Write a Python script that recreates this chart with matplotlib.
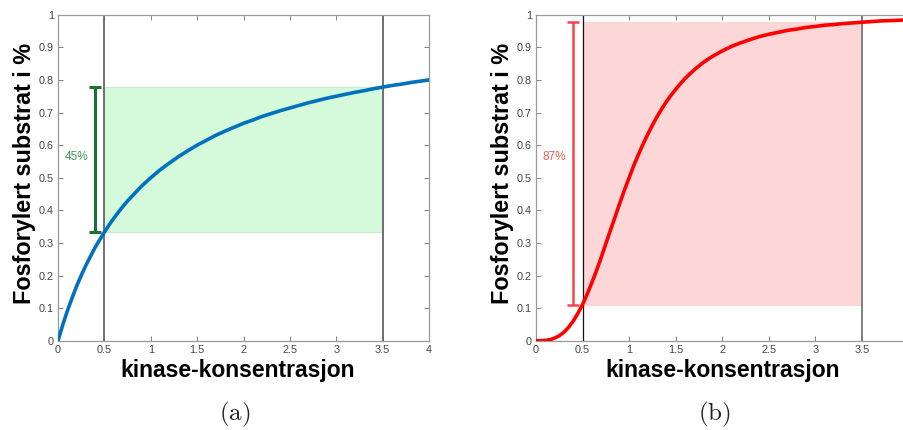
import matplotlib
matplotlib.use("Agg")
import matplotlib.pyplot as plt

# (a) hyperbolic response: kinase concentration and phosphorylated fraction
kinase_a = [0.00, 0.05, 0.10, 0.15, 0.20, 0.25, 0.30, 0.35, 0.40, 0.45,
            0.50, 0.55, 0.60, 0.65, 0.70, 0.75, 0.80, 0.85, 0.90, 0.95,
            1.0, 1.1, 1.2, 1.3, 1.4, 1.5, 1.6, 1.7, 1.8, 1.9,
            2.0, 2.1, 2.2, 2.3, 2.4, 2.5, 2.6, 2.7, 2.8, 2.9,
            3.0, 3.1, 3.2, 3.3, 3.4, 3.5, 3.6, 3.7, 3.8, 3.9, 4.0]
phos_a = [0.000, 0.048, 0.091, 0.130, 0.167, 0.200, 0.231, 0.259, 0.286, 0.310,
          0.333, 0.355, 0.375, 0.394, 0.412, 0.429, 0.444, 0.459, 0.474, 0.487,
          0.500, 0.524, 0.545, 0.565, 0.583, 0.600, 0.615, 0.630, 0.643, 0.655,
          0.667, 0.677, 0.688, 0.697, 0.706, 0.714, 0.722, 0.730, 0.737, 0.744,
          0.750, 0.756, 0.762, 0.767, 0.773, 0.778, 0.783, 0.787, 0.792, 0.796,
          0.800]

# (b) sigmoidal response
kinase_b = [0.00, 0.05, 0.10, 0.15, 0.20, 0.25, 0.30, 0.35, 0.40, 0.45,
            0.50, 0.55, 0.60, 0.65, 0.70, 0.75, 0.80, 0.85, 0.90, 0.95,
            1.00, 1.05, 1.10, 1.15, 1.20, 1.25, 1.30, 1.35, 1.40, 1.45,
            1.50, 1.55, 1.60, 1.65, 1.70, 1.75, 1.80, 1.85, 1.90, 1.95,
            2.0, 2.1, 2.2, 2.3, 2.4, 2.5, 2.6, 2.7, 2.8, 2.9,
            3.0, 3.1, 3.2, 3.3, 3.4, 3.5, 3.6, 3.7, 3.8, 3.9, 4.0]
phos_b = [0.000, 0.000, 0.001, 0.003, 0.008, 0.015, 0.026, 0.041, 0.060, 0.084,
          0.111, 0.143, 0.178, 0.215, 0.255, 0.297, 0.339, 0.380, 0.422, 0.462,
          0.500, 0.537, 0.571, 0.603, 0.633, 0.661, 0.687, 0.711, 0.733, 0.753,
          0.771, 0.788, 0.804, 0.818, 0.831, 0.843, 0.854, 0.864, 0.873, 0.881,
          0.889, 0.903, 0.914, 0.924, 0.933, 0.940, 0.946, 0.952, 0.956, 0.961,
          0.964, 0.968, 0.970, 0.973, 0.975, 0.977, 0.979, 0.981, 0.982, 0.983,
          0.985]

# change in phosphorylation between the two marked concentrations
change_labels = ["45%", "87%"]

x_low, x_high = 0.5, 3.5
xticks_a = [0, 0.5, 1, 1.5, 2, 2.5, 3, 3.5, 4]
xtick_labels_a = ["0", "0.5", "1", "1.5", "2", "2.5", "3", "3.5", "4"]
xticks_b = [0, 0.5, 1, 1.5, 2, 2.5, 3, 3.5]
xtick_labels_b = ["0", "0.5", "1", "1.5", "2", "2.5", "3", "3.5"]
yticks = [0, 0.1, 0.2, 0.3, 0.4, 0.5, 0.6, 0.7, 0.8, 0.9, 1]
ytick_labels = ["0", "0.1", "0.2", "0.3", "0.4", "0.5", "0.6", "0.7", "0.8", "0.9", "1"]

plt.rcParams["font.family"] = ["Liberation Sans", "DejaVu Sans"]
plt.rcParams["mathtext.fontset"] = "cm"

fig = plt.figure(figsize=(9.04, 4.30), dpi=100)
ax_a = fig.add_axes([0.0642, 0.2077, 0.4104, 0.758])
ax_b = fig.add_axes([0.5929, 0.2077, 0.4120, 0.758])

panels = [
    dict(ax=ax_a, xs=kinase_a, ys=phos_a, xt=xticks_a, xtl=xtick_labels_a,
         curve="#0072bd", fill="#d4fadb", edge="#c4ebcc", bar="#1e6e3a",
         bar_lw=2.2, txt="#3f9a5a", vlo="#666666", vhi="#666666",
         vlw_lo=1.3, vlw_hi=1.3, label=change_labels[0], cap="(a)",
         cap_x=235 / 904, xlabel_x=0.484),
    dict(ax=ax_b, xs=kinase_b, ys=phos_b, xt=xticks_b, xtl=xtick_labels_b,
         curve="#ff0000", fill="#fdd7d7", edge="#fdd7d7", bar="#f04848",
         bar_lw=1.8, txt="#f05a5a", vlo="#111111", vhi="#777777",
         vlw_lo=0.9, vlw_hi=1.3, label=change_labels[1], cap="(b)",
         cap_x=714 / 904, xlabel_x=0.5),
]

for p in panels:
    ax, xs, ys = p["ax"], p["xs"], p["ys"]
    y_lo = ys[xs.index(x_low)]
    y_hi = ys[xs.index(x_high)]

    ax.fill_between([x_low, x_high], y_lo, y_hi, facecolor=p["fill"],
                    edgecolor=p["edge"], linewidth=0.8, zorder=1)
    ax.axvline(x_low, color=p["vlo"], lw=p["vlw_lo"], zorder=2)
    ax.axvline(x_high, color=p["vhi"], lw=p["vlw_hi"], zorder=2)
    ax.plot(xs, ys, color=p["curve"], lw=2.6, zorder=3,
            solid_capstyle="round", solid_joinstyle="round")

    # bracket spanning the change between the two concentrations
    ax.errorbar([0.4], [(y_lo + y_hi) / 2], yerr=[[(y_hi - y_lo) / 2]],
                fmt="none", ecolor=p["bar"], elinewidth=p["bar_lw"],
                capsize=4, capthick=p["bar_lw"], zorder=4)
    ax.text(0.2, 0.565, p["label"], color=p["txt"], fontsize=8.5,
            ha="center", va="center")

    ax.set_xlim(0, 4)
    ax.set_ylim(0, 1)
    ax.set_xticks(p["xt"])
    ax.set_xticklabels(p["xtl"])
    ax.set_yticks(yticks)
    ax.set_yticklabels(ytick_labels)
    ax.tick_params(direction="in", length=3.5, width=0.7, colors="#888888",
                   labelcolor="#444444", labelsize=7.8, top=True, right=True,
                   pad=3)
    for sp in ax.spines.values():
        sp.set_color("#999999")
        sp.set_linewidth(0.9)

    ax.set_xlabel("kinase-konsentrasjon", fontsize=16.5, fontweight="bold",
                  labelpad=3)
    ax.xaxis.label.set_x(p["xlabel_x"])
    ax.set_ylabel("Fosforylert substrat i %", fontsize=16.8, fontweight="bold",
                  labelpad=2)
    ax.yaxis.label.set_y(0.513)

    fig.text(p["cap_x"], 1 - 414 / 430, r"$\mathrm{" + p["cap"] + "}$",
             fontsize=18, ha="center", va="center", color="#222222")

fig.savefig("out.png", dpi=100)
